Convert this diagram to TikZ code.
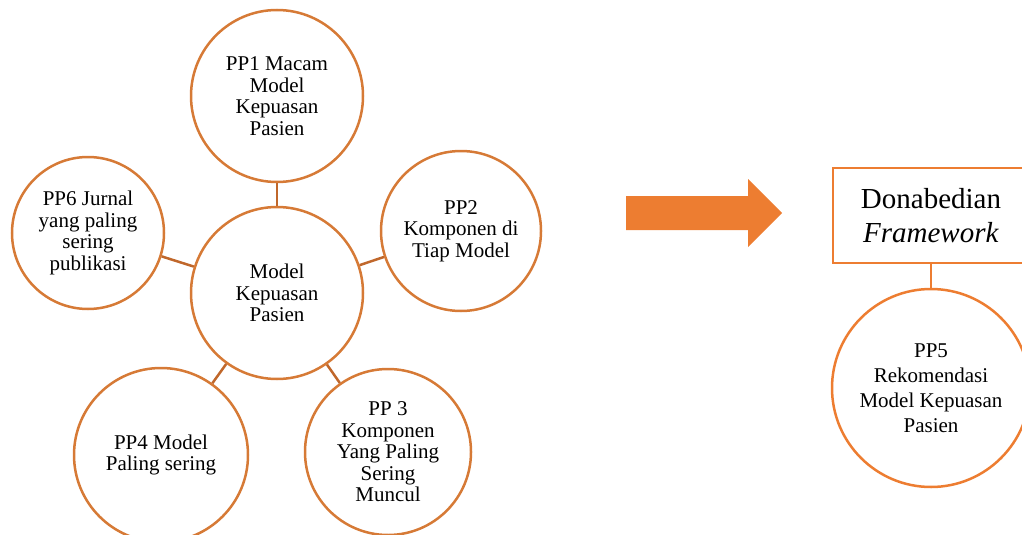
\documentclass[tikz,border=0pt]{standalone}
\usepackage{fontspec}
\setmainfont{Liberation Serif}
\definecolor{bubbleline}{HTML}{D67A36}
\definecolor{spokeline}{HTML}{C0672B}
\definecolor{accentline}{HTML}{ED7D31}

\begin{document}
\begin{tikzpicture}[x=1pt, y=-1pt,
    bubble/.style = {circle, draw=bubbleline, line width=2.5pt, inner sep=0pt,
        align=center, font=\fontsize{21}{21.5}\selectfont},
    spoke/.style = {draw=spokeline, line width=2.5pt}]
    \useasboundingbox (0, 0) rectangle (1022, 535);

    % radial group
    \node[bubble, minimum size=172pt] (hub) at (277, 293) {Model\\Kepuasan\\Pasien};
    \node[bubble, minimum size=172pt] (pp1) at (277, 96) {PP1 Macam\\Model\\Kepuasan\\Pasien};
    \node[bubble, minimum size=160pt] (pp2) at (461, 231) {PP2\\Komponen di\\Tiap Model};
    \node[bubble, minimum size=166pt] (pp3) at (388, 452) {PP 3\\Komponen\\Yang Paling\\Sering\\Muncul};
    \node[bubble, minimum size=174pt] (pp4) at (161, 455) {PP4 Model\\Paling sering};
    \node[bubble, minimum size=152pt] (pp6) at (88, 233) {PP6 Jurnal\\yang paling\\sering\\publikasi};
    \foreach \leaf in {pp1, pp2, pp3, pp4, pp6}
        \draw[spoke] (hub) -- (\leaf);

    % arrow
    \fill[accentline] (626, 196) -- (748, 196) -- (748, 179) -- (782, 213)
        -- (748, 247) -- (748, 230) -- (626, 230) -- cycle;

    % framework
    \node[draw=accentline, line width=2.5pt, minimum width=196pt, minimum height=95pt,
        inner sep=0pt, align=center, font=\fontsize{29}{34}\selectfont]
        (frame) at (931, 215.5) {Donabedian\\\textit{Framework}};
    \node[bubble, draw=accentline, minimum size=198pt,
        font=\fontsize{21}{25}\selectfont] (pp5) at (931, 388)
        {PP5\\Rekomendasi\\Model Kepuasan\\Pasien};
    \draw[draw=accentline, line width=2.5pt] (frame) -- (pp5);
\end{tikzpicture}
\end{document}
